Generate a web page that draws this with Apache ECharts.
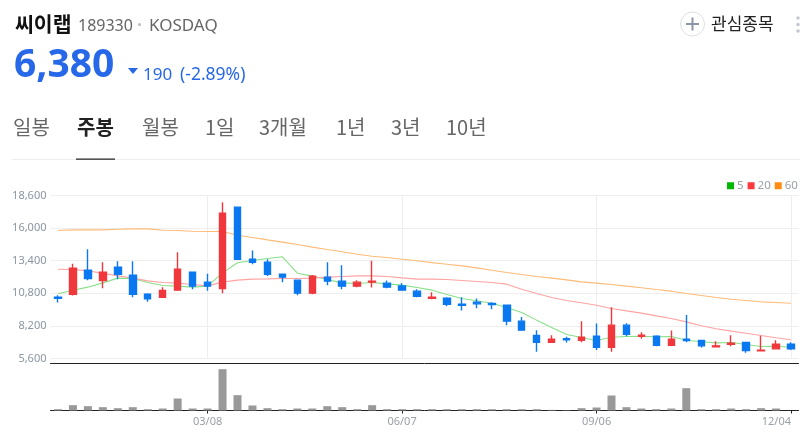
<!DOCTYPE html>
<html><head><meta charset="utf-8">
<style>html,body{margin:0;padding:0;background:#fff}#c{width:809px;height:440px}</style>
<script src="https://cdn.jsdelivr.net/npm/echarts@6/dist/echarts.min.js"></script>
</head><body><div id="c"></div>
<script>
const dates=['12/28','01/04','01/11','01/18','01/25','02/01','02/08','02/15','02/22','03/01','03/08','03/15','03/22','03/29','04/05','04/12','04/19','04/26','05/03','05/10','05/17','05/24','05/31','06/07','06/14','06/21','06/28','07/05','07/12','07/19','07/26','08/02','08/09','08/16','08/23','08/30','09/06','09/13','09/20','09/27','10/04','10/11','10/18','10/25','11/01','11/08','11/15','11/22','11/29','12/04'];
const labelledDates=['03/08','06/07','09/06','12/04'];
// open, close, low, high
const ohlc=[[10490,10410,10070,10650],[10730,12800,10620,13150],[12640,11980,11850,14320],[11820,12480,11210,13280],[12880,12320,11930,13360],[12250,10730,10490,13360],[10730,10360,10120,10810],[10490,11020,10440,11290],[11050,12720,11000,14080],[12480,11370,11130,12480],[11690,11370,11000,12350],[11180,17190,10810,18070],[17670,13520,13520,17670],[13520,13280,13120,14210],[13280,12320,12170,13520],[12320,12090,11690,12320],[11850,10810,10650,11850],[10810,12170,10730,12250],[12090,11770,11450,13280],[11770,11370,11130,13040],[11370,11690,11290,11850],[11690,11770,11260,13390],[11610,11290,11210,11820],[11390,11050,11050,11610],[10970,10570,10490,11130],[10410,10490,10330,10890],[10410,9930,9770,10490],[9930,9850,9430,10490],[10090,9960,9610,10380],[9990,9910,9530,10090],[9850,8580,8260,9850],[8580,7860,7860,8900],[7430,6900,6130,7860],[6900,7140,6880,7460],[7170,7090,6880,7330],[7060,7300,6900,8580],[7380,6500,6270,8390],[6500,8260,6130,9690],[8260,7540,7380,8420],[7380,7460,7170,7700],[7380,6660,6580,7460],[6660,7140,6660,7830],[7140,7040,6900,9060],[7040,6610,6480,7040],[6530,6610,6530,6980],[6740,6820,6580,7460],[6880,6240,6050,6880],[6210,6270,6210,7410],[6370,6740,6340,7060],[6740,6380,6270,6900]];
const ma5=[10760,11050,11290,11630,12010,11980,11660,11420,11370,11290,11370,12430,13230,13420,13570,13710,12400,12170,11900,11630,11580,11660,11550,11450,11260,11050,10700,10380,10200,10010,9670,9270,8660,8070,7510,7270,7040,7300,7350,7380,7330,7350,7060,6930,6850,6880,6720,6560,6580,6500];
const ma20=[12720,12700,12590,12400,12190,12010,11790,11660,11610,11500,11390,11690,11850,11930,11950,11980,11980,12010,12090,12140,12190,12190,12140,12030,11930,11930,11900,11820,11740,11660,11530,11130,10780,10460,10230,10040,9850,9590,9400,9220,9000,8790,8520,8210,7970,7780,7620,7430,7250,7090];
const ma60=[15810,15860,15860,15860,15910,15940,15940,15830,15810,15750,15730,15730,15430,15250,15060,14880,14690,14480,14290,14110,13920,13760,13650,13520,13390,13250,13120,12990,12830,12640,12460,12300,12140,12010,11870,11710,11610,11500,11370,11240,11100,10970,10780,10620,10460,10330,10230,10120,10070,10010];
const volume=[4000,16000,13000,10000,7000,10000,4000,6000,36000,6000,6000,124000,46000,15000,7000,4000,6000,6000,13000,10000,4000,16000,4000,4000,4000,4000,4000,4000,4000,4000,4000,4000,4000,2000,1000,7000,9000,45000,10000,6000,4000,6000,67000,4000,4000,6000,4000,7000,6000,0];
const priceTicks=[5600,8200,10800,13400,16000,18600];

const KR='"Noto Sans CJK KR","Noto Sans",sans-serif';
const NUM='"Noto Sans","Noto Sans CJK KR",sans-serif';
const isLabelled=(i,v)=>labelledDates.includes(v);
function t(x,y,text,size,color,weight,family){
  return {type:'text',x,y,silent:true,style:{text,fontSize:size,fill:color,fontWeight:weight||'normal',fontFamily:family||KR,textVerticalAlign:'middle',verticalAlign:'middle'}};
}
const tabs=[['일봉',13,0],['주봉',77,1],['월봉',142,0],['1일',205,0],['3개월',259,0],['1년',336,0],['3년',391,0],['10년',446,0]];
const graphics=[
  t(15,24,'씨이랩',20.5,'#111','bold'),
  t(78,26,'189330',16,'#666','normal',NUM),
  {type:'circle',shape:{cx:139.5,cy:24.5,r:1.5},style:{fill:'#bbb'},silent:true},
  t(149,26,'KOSDAQ',17,'#666','normal',NUM),
  t(14,66,'6,380',39,'#2768e8','bold',NUM),
  {type:'polygon',shape:{points:[[128,68],[138,68],[133,74]]},style:{fill:'#2768e8'},silent:true},
  t(143,75,'190',17,'#2768e8','normal',NUM),
  t(180,75,'(-2.89%)',17.5,'#2768e8','normal',NUM),
  {type:'circle',shape:{cx:692.5,cy:24,r:12},style:{fill:'#fff',stroke:'#dde0e6',lineWidth:1},silent:true},
  {type:'rect',shape:{x:686,y:23,width:13,height:2},style:{fill:'#8a95a5'},silent:true},
  {type:'rect',shape:{x:691.5,y:17.5,width:2,height:13},style:{fill:'#8a95a5'},silent:true},
  t(711,24,'관심종목',17,'#222'),
  {type:'circle',shape:{cx:798,cy:18,r:1.8},style:{fill:'#c4c8d0'},silent:true},
  {type:'circle',shape:{cx:798,cy:24.5,r:1.8},style:{fill:'#c4c8d0'},silent:true},
  {type:'circle',shape:{cx:798,cy:31,r:1.8},style:{fill:'#c4c8d0'},silent:true},
  {type:'rect',shape:{x:12,y:159,width:788,height:1},style:{fill:'#eeeeee'},silent:true},
  {type:'rect',shape:{x:76,y:158.5,width:39,height:1.2},style:{fill:'#222'},silent:true}
];
tabs.forEach(a=>graphics.push(t(a[1],127,a[0],20,a[2]?'#222':'#666',a[2]?'bold':'normal',KR)));

const chart=echarts.init(document.getElementById('c'));
chart.setOption({
  animation:false,backgroundColor:'#fff',
  graphic:graphics,
  legend:{left:727,top:180,padding:0,itemGap:4,itemWidth:7,itemHeight:7,icon:'rect',
    textStyle:{color:'#9aa0a8',fontSize:11.5,fontFamily:NUM,padding:[0,0,0,-2]},data:['5','20','60']},
  grid:[{left:50.5,width:748,top:195.5,height:163},{left:50.5,width:748,top:363.5,height:47}],
  xAxis:[
    {type:'category',gridIndex:0,data:dates,boundaryGap:true,offset:5,
      axisLine:{show:true,lineStyle:{color:'#222',width:1}},axisTick:{show:false},axisLabel:{show:false},
      splitLine:{show:true,interval:isLabelled,alignWithLabel:true,lineStyle:{color:'#eeeeee',width:1}}},
    {type:'category',gridIndex:1,data:dates,boundaryGap:true,
      axisLine:{show:true,lineStyle:{color:'#222',width:1}},
      axisTick:{show:true,alignWithLabel:true,interval:isLabelled,length:3,lineStyle:{color:'#222'}},
      axisLabel:{show:true,interval:isLabelled,color:'#9aa0a8',fontSize:11,fontFamily:NUM,margin:6,alignMaxLabel:'right'},
      splitLine:{show:false}}
  ],
  yAxis:[
    {type:'value',gridIndex:0,min:5600,max:18600,interval:2600,scale:true,
      axisLine:{show:false},axisTick:{show:false},
      axisLabel:{color:'#8b95a1',fontSize:11,fontFamily:NUM,margin:4,
        formatter:v=>priceTicks.includes(v)?v.toLocaleString('en-US'):''},
      splitLine:{lineStyle:{color:'#eeeeee',width:1}}},
    {type:'value',gridIndex:1,min:0,max:141000,show:false,splitLine:{show:false}}
  ],
  series:[
    {name:'5',type:'line',data:ma5,showSymbol:false,symbol:'none',itemStyle:{color:'#00b800'},lineStyle:{color:'#88e088',width:1.1},z:2,silent:true},
    {name:'20',type:'line',data:ma20,showSymbol:false,symbol:'none',itemStyle:{color:'#ff3a3f'},lineStyle:{color:'#ffa3a3',width:1.1},z:2,silent:true},
    {name:'60',type:'line',data:ma60,showSymbol:false,symbol:'none',itemStyle:{color:'#ff8a14'},lineStyle:{color:'#ffbb78',width:1.1},z:2,silent:true},
    {name:'price',type:'candlestick',data:ohlc,barWidth:7,z:3,silent:true,
      itemStyle:{color:'#f0383c',color0:'#0a78f0',borderColor:'#f0383c',borderColor0:'#0a78f0',borderWidth:1.4}},
    {name:'volume',type:'bar',xAxisIndex:1,yAxisIndex:1,data:volume,barWidth:8,itemStyle:{color:'#999999'},silent:true}
  ]
});
</script></body></html>
